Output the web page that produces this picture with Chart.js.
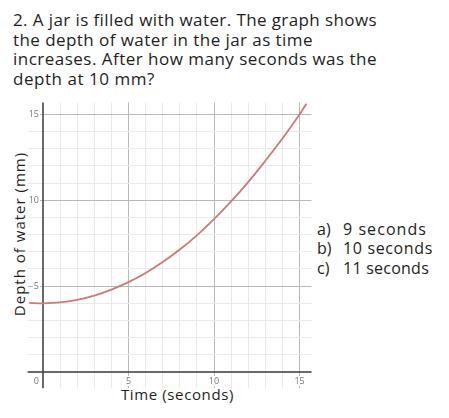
<!DOCTYPE html>
<html><head><meta charset="utf-8">
<script src="https://cdn.jsdelivr.net/npm/chart.js@4.4.0/dist/chart.umd.min.js"></script>
<style>
html,body{margin:0;padding:0;background:#fff;width:449px;height:418px;overflow:hidden;}
body{position:relative;font-family:"Open Sans",sans-serif;color:#1e1e1e;}
.t{position:absolute;white-space:nowrap;}
.q{left:13px;font-size:17px;line-height:20px;}
.a{font-size:16px;line-height:20px;}
#wrap{position:absolute;left:20px;top:95px;width:300px;height:300px;}
</style></head>
<body>
<div class="t q" id="q1" style="top:10.4px">2. A jar is filled with water. The graph shows</div>
<div class="t q" id="q2" style="top:30px">the depth of water in the jar as time</div>
<div class="t q" id="q3" style="top:49.4px">increases. After how many seconds was the</div>
<div class="t q" id="q4" style="top:69px">depth at 10 mm?</div>

<div class="t a" style="left:317px;top:218.8px">a)</div><div class="t a" id="a1" style="left:343px;top:218.8px">9 seconds</div>
<div class="t a" style="left:317px;top:238.1px">b)</div><div class="t a" id="a2" style="left:343px;top:238.1px">10 seconds</div>
<div class="t a" style="left:317px;top:258.1px">c)</div><div class="t a" id="a3" style="left:343px;top:258.1px">11 seconds</div>

<div class="t" id="xt" style="font-size:15px;line-height:16px;left:177.5px;top:386px;transform:translateX(-50%);">Time (seconds)</div>
<div class="t" id="yt" style="font-size:15px;line-height:16px;left:19px;top:234px;transform:translate(-50%,-50%) rotate(-90deg);">Depth of water (mm)</div>

<div id="wrap"><canvas id="c" width="300" height="300"></canvas></div>
<script>
// Data
const timeSeconds = [-0.8, 0, 1, 2, 3, 4, 5, 6, 7, 8, 9, 10, 11, 12, 13, 14, 15, 15.4];
const depthMm     = [4.03, 4.0, 4.05, 4.2, 4.45, 4.8, 5.23, 5.76, 6.4, 7.13, 7.96, 8.9, 9.93, 11.06, 12.3, 13.6, 15.0, 15.62];
const xTickValues = [0, 5, 10, 15];
const xTickLabels = ['0', '5', '10', '15'];
const yTickValues = [5, 10, 15];
const yTickLabels = ['5', '10', '15'];

function fitWidth(id, target){
  const el = document.getElementById(id);
  const w = el.getBoundingClientRect().width;
  const n = el.textContent.length;
  el.style.letterSpacing = ((target - w) / n) + 'px';
}
fitWidth('q1', 364); fitWidth('q2', 300); fitWidth('q3', 364); fitWidth('q4', 142);
fitWidth('a1', 84); fitWidth('a2', 90); fitWidth('a3', 86);
fitWidth('xt', 113);
(function(){
  const el = document.getElementById('yt');
  const w = el.offsetWidth; const n = el.textContent.length;
  el.style.letterSpacing = ((164 - w) / n) + 'px';
})();

const points = timeSeconds.map((t, i) => ({x: t, y: depthMm[i]}));

const gridColor = (ctx) => {
  const v = ctx.tick.value;
  if (v === 0) return 'rgba(0,0,0,0)';
  return v % 5 === 0 ? '#b8b8b8' : '#eaeaea';
};

const overlay = {
  id: 'overlay',
  beforeDatasetsDraw(chart){
    const {ctx, chartArea: a, scales: {x, y}} = chart;
    ctx.save();
    ctx.strokeStyle = '#3a3a3a';
    ctx.lineWidth = 1.5;
    const x0 = x.getPixelForValue(0), y0 = y.getPixelForValue(0);
    ctx.beginPath();
    ctx.moveTo(x0, a.top); ctx.lineTo(x0, a.bottom);
    ctx.moveTo(a.left, y0); ctx.lineTo(a.right, y0);
    ctx.stroke();
    ctx.restore();
  },
  afterDraw(chart){
    const {ctx, scales: {x, y}} = chart;
    const x0 = x.getPixelForValue(0), y0 = y.getPixelForValue(0);
    ctx.save();
    ctx.font = '9px "Open Sans", sans-serif';
    ctx.textBaseline = 'middle';
    const label = (txt, px, py, align) => {
      const w = ctx.measureText(txt).width;
      let lx = align === 'right' ? px - w : px - w / 2;
      ctx.fillStyle = '#fff';
      ctx.fillRect(lx - 1, py - 5, w + 2, 10);
      ctx.fillStyle = '#777';
      ctx.textAlign = 'left';
      ctx.fillText(txt, lx, py);
    };
    yTickValues.forEach((v, i) => label(yTickLabels[i], x0 - 4, y.getPixelForValue(v), 'right'));
    xTickValues.forEach((v, i) => {
      if (v === 0) label(xTickLabels[i], x0 - 4, y0 + 9, 'right');
      else label(xTickLabels[i], x.getPixelForValue(v), y0 + 9, 'center');
    });
    ctx.restore();
  }
};

new Chart(document.getElementById('c'), {
  type: 'scatter',
  data: {datasets: [{
    data: points,
    showLine: true,
    borderColor: '#cc7a74',
    borderWidth: 1.8,
    pointRadius: 0,
    tension: 0.4,
    fill: false
  }]},
  options: {
    responsive: false,
    animation: false,
    layout: {padding: {left: 7.6, top: 7.4, right: 8.5, bottom: 6.7}},
    plugins: {legend: {display: false}, tooltip: {enabled: false}},
    scales: {
      x: {type: 'linear', min: -0.9, max: 15.7,
          ticks: {display: false, stepSize: 1, maxTicksLimit: 100, includeBounds: false},
          grid: {color: gridColor, lineWidth: 1, drawTicks: false},
          border: {display: false}},
      y: {type: 'linear', min: -0.95, max: 15.7,
          ticks: {display: false, stepSize: 1, maxTicksLimit: 100, includeBounds: false},
          grid: {color: gridColor, lineWidth: 1, drawTicks: false},
          border: {display: false}}
    }
  },
  plugins: [overlay]
});
</script>
</body></html>
